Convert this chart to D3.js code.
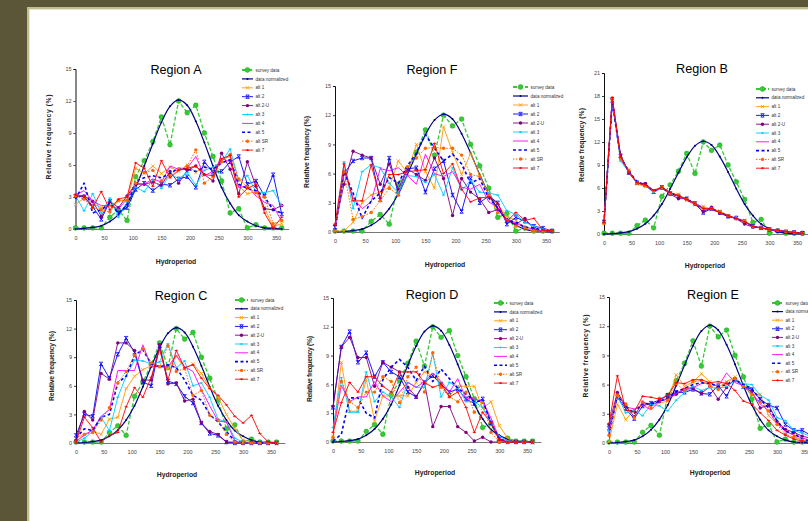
<!DOCTYPE html>
<html><head><meta charset="utf-8">
<script src="https://cdn.jsdelivr.net/npm/d3@7"></script>
<style>body{margin:0;background:#5b5637;}svg{display:block}</style>
</head><body><svg id="c" width="808" height="521"></svg>
<script>
// ---------- data ----------
const hydroperiod = [0,15,30,45,60,75,90,105,120,135,150,165,180,195,210,225,240,255,270,285,300,315,330,345,360];
const xTicks = [0,50,100,150,200,250,300,350];
const yTicks15 = [0,3,6,9,12,15];
const yTicks21 = [0,3,6,9,12,15,18,21];
const seriesNames = ["survey data","data normalized","alt 1","alt 2","alt 2-U","alt 3","alt 4","alt 5","alt SR","alt 7"];
const regionTitles = ["Region A","Region F","Region B","Region C","Region D","Region E"];

const surveyData     = [0.1,0.1,0.1,0.1,1.1,1.8,0.8,4.9,6.4,8.2,10.5,7.9,12.0,10.9,11.6,9.0,6.8,4.5,1.5,1.9,0.1,0.4,0.1,0.1,0.1];
const dataNormalized = [0.0,0.05,0.15,0.3,0.7,1.35,2.4,3.9,5.9,8.0,10.0,11.5,12.1,11.6,10.1,8.1,5.9,3.9,2.4,1.3,0.7,0.3,0.1,0.05,0.0];

// Region A
const A_alt1  = [2.3,2.9,2.4,2.0,2.2,2.6,2.7,5.7,5.2,5.9,5.2,5.8,5.4,6.0,5.3,5.9,5.5,6.5,6.8,4.0,3.3,3.5,2.0,0.2,0.5];
const A_alt2  = [3.1,3.0,2.1,0.9,2.6,1.5,2.0,3.7,4.3,3.6,4.2,4.1,4.7,4.9,3.9,6.3,5.3,5.4,6.3,6.8,4.2,4.5,3.1,5.1,1.4];
const A_alt2U = [3.1,3.1,2.6,1.2,2.6,2.0,3.1,4.2,4.2,4.4,4.1,5.4,4.3,5.5,5.9,5.1,4.5,7.1,5.6,3.3,6.3,4.0,1.9,1.8,2.2];
const A_alt3  = [3.1,1.7,3.3,1.5,2.9,1.1,2.5,3.9,3.5,4.6,3.8,5.2,4.7,5.3,4.1,5.5,5.8,6.3,7.5,4.5,5.0,3.5,3.4,3.6,2.2];
const A_alt4  = [3.2,3.6,2.6,2.2,2.2,1.9,2.8,4.3,4.2,4.7,4.4,5.9,5.6,5.7,6.8,5.0,5.4,6.6,6.3,3.9,4.0,3.1,2.5,2.2,0.7];
const A_alt5  = [2.8,4.3,1.5,1.8,2.4,1.5,2.2,4.5,4.8,5.0,4.8,5.2,5.7,5.6,5.4,5.8,5.6,6.2,6.5,4.2,3.8,3.6,3.0,1.8,1.5];
const A_altSR = [3.1,2.8,2.0,1.8,1.6,2.7,2.7,4.3,5.3,5.5,4.5,5.0,5.6,5.9,7.4,4.3,4.9,6.3,7.0,4.7,3.9,3.4,3.0,0.5,0.8];
const A_alt7  = [3.2,3.1,2.0,3.5,1.8,2.8,3.0,6.2,5.7,4.0,6.4,4.8,5.5,5.7,5.9,5.1,5.0,6.6,6.9,3.0,3.8,4.2,1.5,0.1,1.1];

// Region F
const F_alt1  = [0.1,0.1,1.0,3.0,3.8,4.1,4.6,7.3,6.1,9.0,6.2,4.5,10.8,8.2,5.9,8.1,5.8,3.9,2.8,1.6,1.2,0.4,0.1,0.1,0.1];
const F_alt2  = [0.5,6.0,7.3,7.6,7.6,3.3,7.6,3.9,6.5,6.6,4.1,6.5,7.3,3.8,2.1,5.5,3.0,3.7,3.0,0.8,1.5,1.1,0.6,0.4,0.1];
const F_alt2U = [0.7,4.9,8.3,7.9,7.6,4.9,7.0,4.4,6.5,5.9,5.3,7.6,5.5,1.7,5.5,4.1,3.4,2.0,2.3,1.3,0.8,1.4,0.3,0.1,0.1];
const F_alt3  = [0.3,7.2,2.4,6.2,6.9,6.6,5.0,4.0,5.8,5.7,5.1,5.9,3.8,6.6,4.3,5.3,4.1,4.0,3.8,2.2,1.8,1.0,0.6,0.3,0.1];
const F_alt4  = [0.2,6.4,3.5,2.4,3.1,6.5,6.3,6.6,5.8,4.9,8.0,6.0,5.7,6.2,4.6,4.4,4.9,3.1,2.5,1.3,0.9,0.5,0.3,0.1,0.1];
const F_alt5  = [0.1,6.2,4.0,1.4,3.2,4.0,5.6,5.0,6.8,8.1,10.0,8.6,7.3,8.0,7.0,5.0,5.5,3.5,2.5,1.2,1.0,0.5,0.4,0.2,0.1];
const F_altSR = [0.1,6.2,1.3,1.6,2.0,3.2,4.5,3.8,6.7,7.6,8.6,8.7,8.6,8.6,7.9,5.9,5.7,3.8,2.0,1.2,0.6,0.4,0.1,0.1,0.1];
const F_alt7  = [0.8,7.0,3.2,3.2,6.9,3.5,5.9,5.9,6.2,6.3,6.4,9.1,6.0,7.0,4.4,3.1,3.5,3.6,2.9,1.1,2.0,1.2,1.4,0.2,0.1];

// Region B
const B_alt1  = [1.4,17.6,9.7,8.4,6.5,6.2,5.7,6.0,5.2,5.2,4.4,3.8,3.6,3.2,3.0,2.4,2.0,1.8,1.0,0.7,0.6,0.5,0.3,0.2,0.1];
const B_alt2  = [1.6,17.4,10.2,8.0,6.7,6.4,5.5,6.1,5.3,4.9,4.6,4.0,2.8,3.3,2.8,2.3,2.1,1.6,1.0,0.8,0.6,0.4,0.3,0.2,0.1];
const B_alt2U = [1.5,17.7,10.3,8.0,6.6,6.6,5.6,6.0,5.2,4.6,4.6,3.9,2.9,3.5,2.7,2.3,2.0,1.3,0.9,0.8,0.6,0.5,0.3,0.2,0.1];
const B_alt3  = [1.5,17.5,9.5,8.1,6.6,6.3,5.4,6.0,5.3,5.0,4.5,4.0,3.4,3.2,2.8,2.4,2.0,1.6,1.0,0.8,0.6,0.5,0.3,0.2,0.1];
const B_alt4  = [1.4,17.6,9.9,8.1,6.7,6.3,5.6,6.1,5.4,5.0,4.4,3.9,3.3,3.2,2.8,2.4,2.0,1.6,1.0,0.8,0.6,0.4,0.3,0.2,0.1];
const B_alt5  = [1.5,17.2,10.0,8.2,6.8,6.4,5.6,6.1,5.3,5.0,4.5,4.0,3.3,3.3,2.8,2.4,2.0,1.6,1.0,0.8,0.6,0.5,0.3,0.2,0.1];
const B_altSR = [1.4,17.7,9.8,8.3,6.6,6.3,5.6,6.1,5.3,5.1,4.5,4.0,3.4,3.3,2.9,2.4,2.0,1.7,1.0,0.8,0.6,0.5,0.3,0.2,0.1];
const B_alt7  = [1.5,17.8,10.1,8.1,6.7,6.4,5.7,6.1,5.4,5.0,4.5,4.0,3.3,3.3,2.8,2.4,2.0,1.6,1.0,0.8,0.6,0.5,0.3,0.2,0.1];

// Region C
const C_alt1  = [0.5,0.9,1.3,0.9,2.5,2.7,5.7,7.0,7.7,8.1,8.0,7.8,9.1,7.8,8.3,7.3,5.8,4.8,3.0,1.5,0.3,0.1,0.0,0.0,0.0];
const C_alt2  = [0.8,3.0,2.8,8.3,6.8,9.3,11.0,9.5,6.4,6.0,10.2,6.5,6.2,4.9,4.2,2.1,1.0,0.8,0.1,0.0,0.0,0.0,0.0,0.0,0.0];
const C_alt2U = [0.3,3.3,2.4,7.3,6.7,10.5,10.5,9.7,6.6,6.6,10.3,6.2,6.3,4.4,4.6,2.1,1.2,0.9,0.1,0.1,0.0,0.0,0.0,0.0,0.0];
const C_alt3  = [0.1,0.5,1.2,2.7,1.3,4.8,7.0,8.7,8.6,8.3,8.5,10.4,7.9,8.6,6.0,6.3,4.8,2.5,2.2,0.5,0.1,0.0,0.0,0.0,0.0];
const C_alt4  = [0.2,0.8,1.4,2.8,3.5,7.6,7.6,7.6,10.3,8.0,8.0,8.0,9.2,8.0,7.5,5.6,3.9,2.3,2.2,0.2,0.0,0.0,0.0,0.0,0.0];
const C_alt5  = [0.5,1.5,1.3,2.7,3.0,6.3,7.0,9.2,9.8,8.3,8.0,8.2,7.9,6.6,5.0,4.5,3.0,2.2,1.2,0.2,0.0,0.0,0.0,0.0,0.0];
const C_altSR = [0.1,0.9,1.1,2.4,3.7,6.3,7.5,9.2,9.9,8.4,8.0,10.2,7.5,7.8,5.0,5.5,2.9,2.4,0.9,0.1,0.0,0.0,0.0,0.0,0.0];
const C_alt7  = [0.1,2.7,1.6,0.1,0.8,1.1,3.8,5.8,4.8,6.9,9.8,6.6,9.7,7.9,8.2,6.8,5.7,5.0,4.0,2.8,2.1,2.9,1.0,0.1,0.0];

// Region D
const D_alt1  = [0.6,8.3,3.2,3.2,6.5,2.2,4.8,4.8,4.8,4.8,6.2,7.3,6.9,6.2,4.8,5.8,5.8,5.8,3.5,4.2,1.7,0.4,0.0,0.0,0.0];
const D_alt2  = [3.6,9.9,11.5,8.3,9.3,6.8,8.3,7.3,6.8,5.2,4.7,6.2,6.9,6.0,5.2,5.5,4.5,4.0,4.5,2.0,0.3,0.0,0.0,0.0,0.0];
const D_alt2U = [3.7,9.9,10.9,8.8,8.8,5.8,8.3,7.8,7.3,5.7,4.7,6.2,1.6,3.7,3.7,1.6,1.0,0.1,0.5,0.0,0.0,0.0,0.0,0.0,0.0];
const D_alt3  = [1.5,6.7,3.1,3.1,7.3,4.2,5.2,4.7,3.6,6.2,5.7,5.7,9.2,4.7,6.2,5.7,4.2,4.2,3.6,2.0,0.6,0.1,0.0,0.0,0.0];
const D_alt4  = [1.0,5.9,4.2,4.7,4.7,6.3,4.8,4.2,5.2,6.2,5.7,6.3,7.2,6.3,5.2,6.6,4.5,4.5,4.2,2.5,0.4,0.0,0.0,0.0,0.0];
const D_alt5  = [0.1,0.8,4.6,4.6,3.0,2.5,6.5,7.8,8.6,7.8,6.4,7.9,6.3,7.6,6.6,5.6,5.0,4.2,4.3,2.0,0.3,0.0,0.0,0.0,0.0];
const D_altSR = [0.5,6.3,4.2,3.6,5.2,5.2,6.8,6.3,4.1,6.8,7.8,5.2,9.3,5.7,4.7,4.2,5.2,3.1,4.1,1.0,0.0,0.0,0.0,0.0,0.0];
const D_alt7  = [1.0,4.1,6.2,5.2,6.8,6.8,5.8,5.2,7.3,7.3,7.3,6.2,5.7,6.0,4.7,5.2,3.6,1.0,3.1,2.0,0.2,0.0,0.0,0.0,0.0];

// Region E
const E_alt1  = [0.1,4.0,2.4,3.4,4.0,4.0,4.1,4.3,7.0,5.8,6.3,7.1,6.3,5.7,6.3,6.8,5.8,5.0,5.0,2.8,2.0,1.3,0.8,0.2,0.2];
const E_alt2  = [1.5,4.7,3.5,2.5,3.8,4.1,4.4,4.9,5.2,5.2,5.5,5.1,5.0,5.9,4.8,6.5,5.8,5.5,4.5,3.9,3.6,1.9,1.3,1.3,0.8];
const E_alt2U = [1.9,5.2,3.8,2.7,4.2,3.9,4.3,4.6,5.0,5.5,5.6,5.1,5.8,4.5,5.7,6.6,5.8,5.3,3.6,3.9,2.2,1.4,1.1,0.7,0.5];
const E_alt3  = [1.2,4.8,3.1,3.4,2.8,4.0,3.8,3.3,4.4,5.2,5.8,5.4,5.7,5.6,5.8,6.4,6.1,6.0,4.9,4.4,2.6,2.3,1.3,1.0,0.7];
const E_alt4  = [1.0,5.0,3.7,3.5,3.9,3.4,4.3,4.5,5.1,5.6,5.7,6.1,6.2,5.8,7.2,6.2,5.9,5.2,4.0,3.3,2.0,1.2,0.8,0.5,0.3];
const E_alt5  = [0.8,4.9,3.8,3.0,4.1,4.0,4.3,4.6,5.3,5.6,6.0,6.2,6.1,5.8,6.0,6.5,6.0,5.6,4.5,3.6,2.3,1.2,1.0,0.4,0.2];
const E_altSR = [0.8,4.9,4.0,2.6,4.2,3.6,4.6,4.4,6.1,5.4,6.3,6.4,5.9,5.5,6.2,6.6,5.8,5.0,4.2,3.3,1.9,0.9,0.6,0.3,0.1];
const E_alt7  = [2.0,6.9,3.4,3.2,4.8,4.7,4.5,4.9,6.2,6.1,6.5,6.5,6.2,6.3,6.1,5.4,4.3,4.0,3.1,2.3,1.3,0.8,0.4,0.2,0.1];

// ---------- styles ----------
const styles = [
  {color:"#33cc33", width:1.3, dash:"4,2", marker:"bigcircle"},
  {color:"#000080", width:1.2, dash:null, marker:"dot", smooth:true},
  {color:"#ff9900", width:0.9, dash:null, marker:"x"},
  {color:"#0000ff", width:0.9, dash:null, marker:"star"},
  {color:"#800080", width:0.9, dash:null, marker:"circle"},
  {color:"#00ccff", width:0.9, dash:null, marker:"plus"},
  {color:"#ff00ff", width:0.9, dash:null, marker:null},
  {color:"#0000ff", width:1.6, dash:"3,2.5", marker:null},
  {color:"#ff6600", width:1.0, dash:"1.5,1.5", marker:"circle"},
  {color:"#ff0000", width:0.9, dash:null, marker:"plus"}
];

// ---------- layout ----------
const layouts = [
  {x0:75.5,x350:276,y0:229,yTop:69, xEnd:372, tx:176,ty:74, lx:242,ly:70,ldy:8.9,lw:11, ylx:50.5,yly:137,yll:85, xly:264,xlx:176},
  {x0:335,x350:546,y0:232,yTop:86, xEnd:372, tx:432,ty:74, lx:513,ly:87,ldy:9.0,lw:15, ylx:308.5,yly:152,yll:72, xly:267,xlx:445},
  {x0:604,x350:797,y0:234,yTop:73, xEnd:372, tx:702,ty:73, lx:756,ly:89,ldy:8.8,lw:13, ylx:583.5,yly:145,yll:74, xly:268,xlx:705},
  {x0:76,x350:271,y0:443,yTop:300, xEnd:375, tx:181,ty:300, lx:235,ly:300,ldy:8.8,lw:13, ylx:53.5,yly:366,yll:70, xly:477,xlx:177},
  {x0:333,x350:527,y0:442,yTop:298, xEnd:375, tx:432,ty:299, lx:494,ly:303,ldy:8.9,lw:13, ylx:311.5,yly:369,yll:66, xly:475,xlx:435},
  {x0:609,x350:805,y0:443,yTop:297, xEnd:375, tx:713,ty:299, lx:772,ly:303,ldy:8.6,lw:11, ylx:587.5,yly:356,yll:83, xly:475,xlx:710}
];
const panelSeries = [
  [surveyData,dataNormalized,A_alt1,A_alt2,A_alt2U,A_alt3,A_alt4,A_alt5,A_altSR,A_alt7],
  [surveyData,dataNormalized,F_alt1,F_alt2,F_alt2U,F_alt3,F_alt4,F_alt5,F_altSR,F_alt7],
  [surveyData,dataNormalized,B_alt1,B_alt2,B_alt2U,B_alt3,B_alt4,B_alt5,B_altSR,B_alt7],
  [surveyData,dataNormalized,C_alt1,C_alt2,C_alt2U,C_alt3,C_alt4,C_alt5,C_altSR,C_alt7],
  [surveyData,dataNormalized,D_alt1,D_alt2,D_alt2U,D_alt3,D_alt4,D_alt5,D_altSR,D_alt7],
  [surveyData,dataNormalized,E_alt1,E_alt2,E_alt2U,E_alt3,E_alt4,E_alt5,E_altSR,E_alt7]
];
const panelYTicks = [yTicks15,yTicks15,yTicks21,yTicks15,yTicks15,yTicks15];

const svg = d3.select("#c");
const FONT = "Liberation Sans, Arial, sans-serif";

// slide background
svg.append("rect").attr("x",0).attr("y",0).attr("width",808).attr("height",521).attr("fill","#5b5637");
svg.append("rect").attr("x",27).attr("y",7).attr("width",781).attr("height",514).attr("fill","#c2bd8f");
svg.append("rect").attr("x",29).attr("y",9).attr("width",779).attr("height",512).attr("fill","#e8e6d2");
svg.append("rect").attr("x",30).attr("y",10).attr("width",778).attr("height",511).attr("fill","#ffffff");

function drawMarker(g, type, cx, cy, color) {
  if (!type) return;
  if (type === "bigcircle") {
    g.append("circle").attr("cx",cx).attr("cy",cy).attr("r",2.4).attr("fill","#33cc33").attr("stroke","#1f9f1f").attr("stroke-width",0.5);
  } else if (type === "dot") {
    g.append("circle").attr("cx",cx).attr("cy",cy).attr("r",1.0).attr("fill",color);
  } else if (type === "circle") {
    g.append("circle").attr("cx",cx).attr("cy",cy).attr("r",1.7).attr("fill",color);
  } else if (type === "x") {
    const s = 1.7;
    g.append("path").attr("d",`M${cx-s},${cy-s}L${cx+s},${cy+s}M${cx-s},${cy+s}L${cx+s},${cy-s}`).attr("stroke",color).attr("stroke-width",0.8).attr("fill","none");
  } else if (type === "star") {
    const s = 1.7;
    g.append("path").attr("d",`M${cx-s},${cy-s}L${cx+s},${cy+s}M${cx-s},${cy+s}L${cx+s},${cy-s}M${cx-s},${cy-s}L${cx+s},${cy-s}M${cx-s},${cy+s}L${cx+s},${cy+s}`).attr("stroke",color).attr("stroke-width",0.8).attr("fill","none");
  } else if (type === "plus") {
    const s = 1.6;
    g.append("path").attr("d",`M${cx-s},${cy}L${cx+s},${cy}M${cx},${cy-s*0.6}L${cx},${cy+s*0.6}`).attr("stroke",color).attr("stroke-width",0.9).attr("fill","none");
  }
}

layouts.forEach((L, pi) => {
  const yT = panelYTicks[pi];
  const yMax = yT[yT.length-1];
  const ppu = (L.x350 - L.x0) / 350;
  const x = d3.scaleLinear().domain([0, L.xEnd]).range([L.x0, L.x0 + L.xEnd*ppu]);
  const y = d3.scaleLinear().domain([0, yMax]).range([L.y0, L.yTop]);
  const g = svg.append("g");

  // title
  g.append("text").attr("x",L.tx).attr("y",L.ty).attr("text-anchor","middle")
    .attr("font-family",FONT).attr("font-size",12.6).attr("fill","#000").text(regionTitles[pi]);

  // x axis
  const xa = g.append("g").attr("transform",`translate(0,${L.y0})`)
    .call(d3.axisBottom(x).tickValues(xTicks).tickSize(0).tickPadding(7).tickFormat(d3.format("d")));
  xa.select(".domain").attr("stroke","#777").attr("stroke-width",1.2);
  xa.selectAll("text").attr("font-family",FONT).attr("font-size",5.5).attr("fill","#444");

  // y axis
  const ya = g.append("g").attr("transform",`translate(${L.x0},0)`)
    .call(d3.axisLeft(y).tickValues(yT).tickSize(2).tickPadding(2).tickFormat(d3.format("d")));
  ya.select(".domain").attr("stroke","#111").attr("stroke-width",1);
  ya.selectAll(".tick line").attr("stroke","#111").attr("stroke-width",0.8);
  ya.selectAll("text").attr("font-family",FONT).attr("font-size",5.5).attr("fill","#444");

  // axis titles
  g.append("text").attr("transform",`translate(${L.ylx},${L.yly}) rotate(-90)`).attr("text-anchor","middle")
    .attr("font-family",FONT).attr("font-size",6.8).attr("font-weight","bold").attr("fill","#222")
    .attr("textLength",L.yll).attr("lengthAdjust","spacing").text("Relative frequency (%)");
  g.append("text").attr("x",L.xlx).attr("y",L.xly).attr("text-anchor","middle")
    .attr("font-family",FONT).attr("font-size",6.8).attr("font-weight","bold").attr("fill","#222").text("Hydroperiod");

  // series
  panelSeries[pi].forEach((vals, si) => {
    const st = styles[si];
    const pts = hydroperiod.map((h,i) => [x(h), y(vals[i])]);
    const line = d3.line().curve(st.smooth ? d3.curveCatmullRom.alpha(0.5) : d3.curveLinear);
    g.append("path").attr("d", line(pts)).attr("fill","none").attr("stroke",st.color)
      .attr("stroke-width",st.width).attr("stroke-dasharray",st.dash).attr("stroke-linejoin","round");
    const mg = g.append("g");
    pts.forEach(p => drawMarker(mg, st.marker, p[0], p[1], st.color));
  });

  // legend
  seriesNames.forEach((name, si) => {
    const st = styles[si];
    const ly = L.ly + si*L.ldy;
    g.append("line").attr("x1",L.lx).attr("x2",L.lx+L.lw).attr("y1",ly).attr("y2",ly)
      .attr("stroke",st.color).attr("stroke-width",si===0?1.8:st.width).attr("stroke-dasharray",st.dash);
    drawMarker(g, st.marker, L.lx + L.lw/2, ly, st.color);
    g.append("text").attr("x",L.lx+L.lw+2.5).attr("y",ly+1.6).attr("font-family",FONT)
      .attr("font-size",4.6).attr("fill","#333").text(name);
  });
});
</script></body></html>
